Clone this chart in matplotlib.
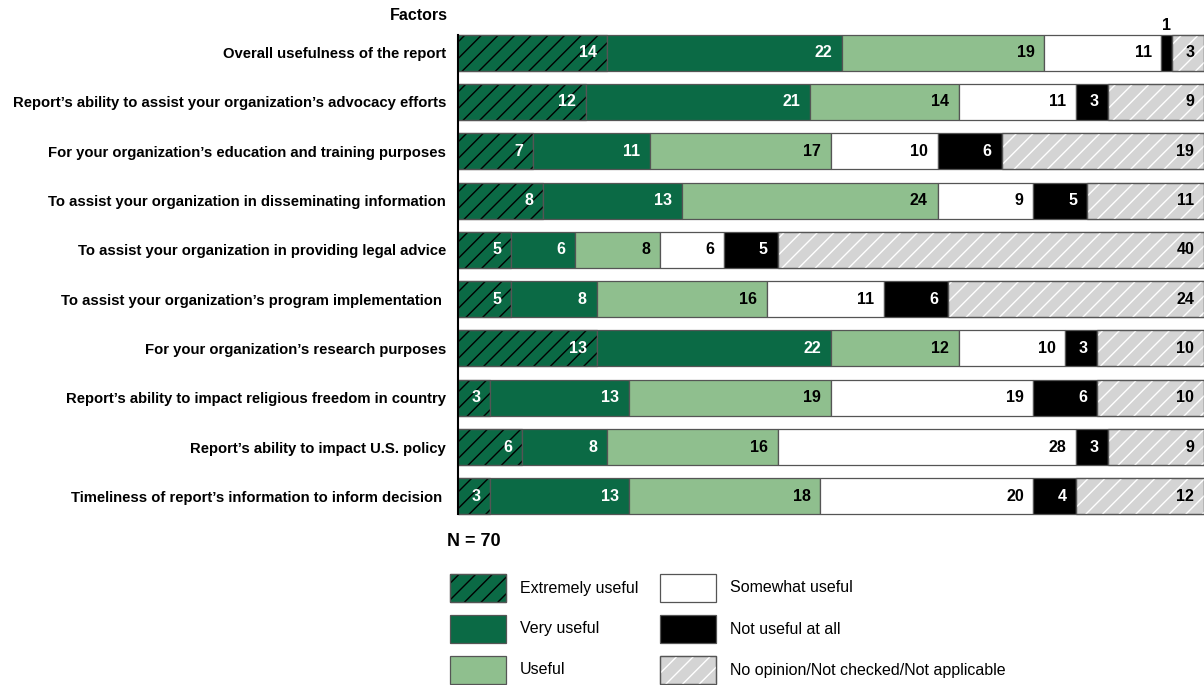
import matplotlib.pyplot as plt
from matplotlib.patches import Rectangle
import numpy as np

plt.rcParams['font.family'] = ['Liberation Sans', 'DejaVu Sans']
plt.rcParams['hatch.linewidth'] = 1.0

factors = [
    "Overall usefulness of the report",
    "Report\u2019s ability to assist your organization\u2019s advocacy efforts",
    "For your organization\u2019s education and training purposes",
    "To assist your organization in disseminating information",
    "To assist your organization in providing legal advice",
    "To assist your organization\u2019s program implementation ",
    "For your organization\u2019s research purposes",
    "Report\u2019s ability to impact religious freedom in country",
    "Report\u2019s ability to impact U.S. policy",
    "Timeliness of report\u2019s information to inform decision ",
]
extremely = [14, 12, 7, 8, 5, 5, 13, 3, 6, 3]
very = [22, 21, 11, 13, 6, 8, 22, 13, 8, 13]
useful = [19, 14, 17, 24, 8, 16, 12, 19, 16, 18]
somewhat = [11, 11, 10, 9, 6, 11, 10, 19, 28, 20]
not_useful = [1, 3, 6, 5, 5, 6, 3, 6, 3, 4]
no_opinion = [3, 9, 19, 11, 40, 24, 10, 10, 9, 12]

series_names = ["Extremely useful", "Very useful", "Useful",
                "Somewhat useful", "Not useful at all",
                "No opinion/Not checked/Not applicable"]
series = [extremely, very, useful, somewhat, not_useful, no_opinion]
fills = ["#0b6a45", "#0b6a45", "#8fbf8e", "#ffffff", "#000000", "#d4d4d4"]
hatches = ["//", None, None, None, None, "//"]
hatch_cols = ["#000000", None, None, None, None, "#ffffff"]
text_cols = ["white", "white", "black", "black", "white", "black"]
edge = "#555555"

W, H = 1204, 685
fig = plt.figure(figsize=(W / 100, H / 100), dpi=100)
ax = fig.add_axes([458 / W, 1 - 521 / H, (W - 458) / W, (521 - 28) / H])

bh = 0.73
y = np.arange(len(factors))
left = np.zeros(len(factors))
for vals, fc, hc, hcol, tc in zip(series, fills, hatches, hatch_cols, text_cols):
    vals = np.array(vals)
    ax.barh(y, vals, left=left, height=bh, color=fc, edgecolor=edge, linewidth=0.9)
    if hc:
        ax.barh(y, vals, left=left, height=bh, color='none', edgecolor=hcol,
                hatch=hc, linewidth=0)
        ax.barh(y, vals, left=left, height=bh, color='none', edgecolor=edge,
                linewidth=0.9)
    for yi, l, v in zip(y, left, vals):
        if v < 2:
            ax.annotate(str(v), (l + v / 2, yi - bh / 2), xytext=(0, 1),
                        textcoords='offset points', ha='center', va='bottom',
                        fontsize=11.5, fontweight='bold', color='black')
        else:
            ax.annotate(str(v), (l + v, yi), xytext=(-7, 0),
                        textcoords='offset points', ha='right', va='center',
                        fontsize=11.5, fontweight='bold', color=tc)
    left = left + vals

ax.set_xlim(0, 70)
ax.set_ylim(len(factors) - 0.5, -0.5)
ax.set_yticks(y)
ax.set_yticklabels(factors, fontsize=10.7, fontweight='bold')
ax.tick_params(axis='y', length=0, pad=8.5)
ax.set_xticks([])
for s in ['top', 'right', 'bottom']:
    ax.spines[s].set_visible(False)
ax.spines['left'].set_linewidth(1.5)
ax.spines['left'].set_bounds(-bh / 2, len(factors) - 1 + bh / 2)

fig.text(448 / W, 1 - 15 / H, "Factors", ha='right', va='center',
         fontsize=11.5, fontweight='bold')
fig.text(447 / W, 1 - 541 / H, "N = 70", ha='left', va='center',
         fontsize=13, fontweight='bold')

# legend, two columns of three
for i, (name, fc, hc, hcol) in enumerate(zip(series_names, fills, hatches, hatch_cols)):
    col, row = divmod(i, 3)
    x0 = [450, 660][col]
    y0 = [574, 615, 656][row]
    fig.patches.append(Rectangle((x0 / W, 1 - (y0 + 28) / H), 56 / W, 28 / H,
                                 transform=fig.transFigure, facecolor=fc,
                                 edgecolor=edge, linewidth=0.9))
    if hc:
        fig.patches.append(Rectangle((x0 / W, 1 - (y0 + 28) / H), 56 / W, 28 / H,
                                     transform=fig.transFigure, facecolor='none',
                                     edgecolor=hcol, hatch=hc, linewidth=0))
        fig.patches.append(Rectangle((x0 / W, 1 - (y0 + 28) / H), 56 / W, 28 / H,
                                     transform=fig.transFigure, facecolor='none',
                                     edgecolor=edge, linewidth=0.9))
    fig.text((x0 + 70) / W, 1 - (y0 + 14) / H, name, ha='left', va='center',
             fontsize=11.5)

fig.savefig("out.png", dpi=100)
